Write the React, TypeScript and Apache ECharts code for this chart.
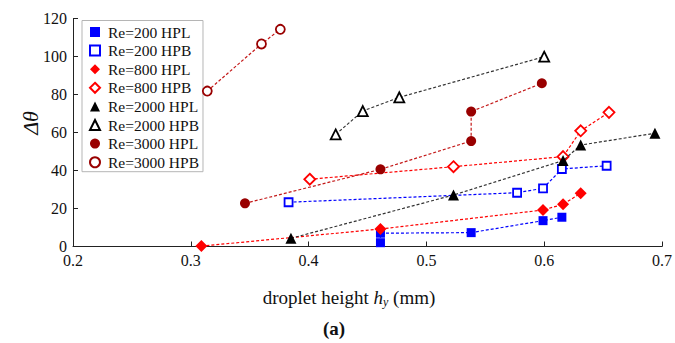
import React, { useEffect, useRef } from 'react';
import * as echarts from 'echarts';

const seriesNames = [
  'Re=200 HPL', 'Re=200 HPB', 'Re=800 HPL', 'Re=800 HPB',
  'Re=2000 HPL', 'Re=2000 HPB', 'Re=3000 HPL', 'Re=3000 HPB',
];

const re200HPL = [[0.461, 2.0], [0.461, 7.0], [0.538, 7.3], [0.599, 13.6], [0.615, 15.4]];
const re200HPB = [[0.383, 23.3], [0.577, 28.3], [0.599, 30.6], [0.615, 40.8], [0.653, 42.5]];
const re800HPL = [[0.309, 0.2], [0.461, 9.2], [0.599, 19.2], [0.616, 22.2], [0.631, 28.0]];
const re800HPB = [[0.401, 35.4], [0.523, 42.0], [0.616, 47.3], [0.631, 60.9], [0.655, 70.6]];
const re2000HPL = [[0.385, 4.3], [0.523, 27.1], [0.616, 45.2], [0.631, 53.4], [0.694, 59.6]];
const re2000HPB = [[0.423, 59.0], [0.446, 71.3], [0.477, 78.5], [0.600, 99.9]];
const re3000HPL = [[0.346, 22.7], [0.461, 40.6], [0.538, 55.5], [0.538, 71.0], [0.598, 85.9]];
const re3000HPB = [[0.314, 81.8], [0.360, 106.6], [0.376, 114.3]];

const seriesData = [re200HPL, re200HPB, re800HPL, re800HPB, re2000HPL, re2000HPB, re3000HPL, re3000HPB];

const FONT = 'Times New Roman, Liberation Serif, DejaVu Serif, serif';

const BLUE = '#0000ff';
const RED = '#ff0000';
const BLACK = '#000000';
const BROWN = '#990000';
const BROWN_LINE = '#c41a1a';

type Sty = { symbol: string; size: number; open: boolean; color: string; line: string };
const styles: Sty[] = [
  { symbol: 'rect', size: 9, open: false, color: BLUE, line: BLUE },
  { symbol: 'rect', size: 8, open: true, color: BLUE, line: BLUE },
  { symbol: 'diamond', size: 12, open: false, color: RED, line: RED },
  { symbol: 'diamond', size: 11, open: true, color: RED, line: RED },
  { symbol: 'triangle', size: 11, open: false, color: BLACK, line: '#333' },
  { symbol: 'triangle', size: 10, open: true, color: BLACK, line: '#333' },
  { symbol: 'circle', size: 10, open: false, color: BROWN, line: BROWN_LINE },
  { symbol: 'circle', size: 9, open: true, color: BROWN, line: BROWN_LINE },
];

export default function App() {
  const ref = useRef<HTMLDivElement>(null);
  useEffect(() => {
    if (!ref.current) return;
    const chart = echarts.init(ref.current, undefined, { renderer: 'svg' });
    const itemStyleOf = (s: Sty) =>
      s.open
        ? { color: '#ffffff', borderColor: s.color, borderWidth: 1.8 }
        : { color: s.color, borderWidth: 0 };
    chart.setOption({
      animation: false,
      backgroundColor: '#ffffff',
      textStyle: { fontFamily: FONT },
      grid: { left: 73, right: 9.5, top: 18.5, bottom: 96.5, containLabel: false },
      xAxis: {
        type: 'value', min: 0.2, max: 0.7, interval: 0.1,
        axisLine: { show: true, lineStyle: { color: '#222', width: 1 } },
        axisTick: { show: true, inside: true, length: 5, lineStyle: { color: '#222' } },
        splitLine: { show: false },
        axisLabel: { color: '#111', fontFamily: FONT, fontSize: 16, margin: 5.5, formatter: (v: number) => v.toFixed(1) },
      },
      yAxis: {
        type: 'value', min: 0, max: 120, interval: 20,
        axisLine: { show: true, lineStyle: { color: '#222', width: 1 } },
        axisTick: { show: true, inside: true, length: 5, lineStyle: { color: '#222' } },
        splitLine: { show: false },
        axisLabel: { color: '#111', fontFamily: FONT, fontSize: 16, margin: 6, lineHeight: 10 },
      },
      legend: {
        orient: 'vertical', left: 82, top: 20.5,
        itemWidth: 10, itemHeight: 10, itemGap: 2.6,
        padding: [3.5, 4, 1.5, 7],
        borderColor: '#b5b5b5', borderWidth: 1, backgroundColor: '#ffffff',
        textStyle: { fontFamily: FONT, fontSize: 15.5, lineHeight: 16, color: '#111', padding: [0, 0, 0, 3] },
        data: seriesNames.map((n, i) => ({
          name: n,
          icon: styles[i].symbol,
          itemStyle: styles[i].open
            ? { color: '#ffffff', borderColor: styles[i].color, borderWidth: 2 }
            : { color: styles[i].color, borderWidth: 0 },
        })),
      },
      series: seriesNames.map((n, i) => ({
        name: n,
        type: 'line',
        data: seriesData[i],
        symbol: styles[i].symbol,
        symbolSize: styles[i].size,
        showAllSymbol: true,
        itemStyle: itemStyleOf(styles[i]),
        lineStyle: { color: styles[i].line, width: 1.2, type: [3, 2] },
        z: 2 + i,
      })),
      graphic: [
        {
          type: 'text', x: 349, y: 297,
          style: {
            text: 'droplet height {i|h}{s|y} (mm)',
            fontFamily: FONT, fontSize: 19, fill: '#111', lineHeight: 22,
            align: 'center', verticalAlign: 'middle', textAlign: 'center', textVerticalAlign: 'middle',
            rich: {
              i: { fontFamily: FONT, fontSize: 19, fontStyle: 'italic', lineHeight: 22, fill: '#111' },
              s: { fontFamily: FONT, fontSize: 12, fontStyle: 'italic', lineHeight: 12, verticalAlign: 'bottom', fill: '#111' },
            },
          },
        },
        {
          type: 'text', x: 334, y: 328,
          style: {
            text: '(a)', fontFamily: FONT, fontSize: 19, fontWeight: 'bold', fill: '#111',
            align: 'center', verticalAlign: 'middle', textAlign: 'center', textVerticalAlign: 'middle',
          },
        },
        {
          type: 'text', x: 30, y: 123, rotation: Math.PI / 2,
          style: {
            text: 'Δθ', fontFamily: FONT, fontSize: 22, fontStyle: 'italic', fill: '#111',
            align: 'center', verticalAlign: 'middle', textAlign: 'center', textVerticalAlign: 'middle',
          },
        },
      ],
    });
    return () => chart.dispose();
  }, []);
  return <div ref={ref} style={{ position: 'fixed', left: 0, top: 0, width: 675, height: 343 }} />;
}
